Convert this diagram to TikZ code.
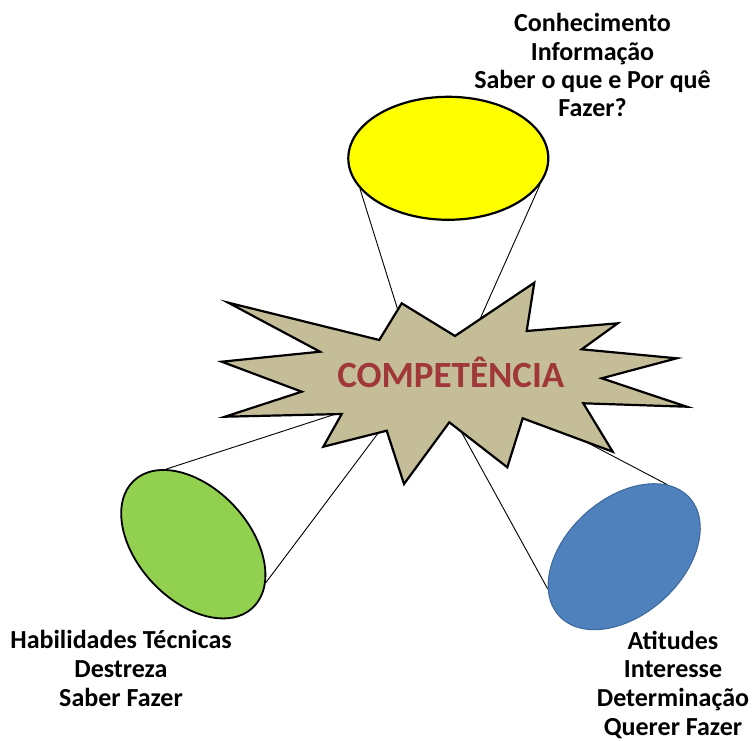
\documentclass[tikz,border=0pt]{standalone}
\usepackage{fontspec}
\setmainfont{Carlito}
\usetikzlibrary{shapes.geometric}
\pgfdeclarelayer{back}
\pgfsetlayers{back,main}
\definecolor{knowY}{HTML}{FFFF00}
\definecolor{skillG}{HTML}{92D050}
\definecolor{attB}{HTML}{4F81BD}
\definecolor{attEdge}{HTML}{3A679C}
\definecolor{burst}{HTML}{C4BD97}
\definecolor{compRed}{HTML}{A0383A}
\begin{document}
\begin{tikzpicture}[x=1pt,y=1pt,
  lbl/.style={font=\fontsize{26}{28.6}\selectfont\bfseries, align=center, inner sep=0pt, anchor=base},
  cone/.style={draw=black, line width=0.9pt},
  oval/.style={ellipse, inner sep=0pt}]
\useasboundingbox (0,0) rectangle (752,740);

% the three ovals
\node[oval, draw=black, line width=2.2pt, fill=knowY,
      minimum width=200pt, minimum height=123pt] (know) at (448.3,581.7) {};
\node[oval, draw=black, line width=1.8pt, fill=skillG,
      minimum width=174pt, minimum height=112pt, rotate=-47] (skill) at (193.3,195.8) {};
\node[oval, draw=attEdge, line width=1pt, fill=attB,
      minimum width=176pt, minimum height=116pt, rotate=42] (att) at (624.2,183.3) {};

% points where the cone lines disappear behind the burst
\coordinate (c1) at (399.4,425);
\coordinate (c2) at (476,412);
\coordinate (c3) at (345,329);
\coordinate (c4) at (383.5,314);
\coordinate (c5) at (457,316);
\coordinate (c6) at (588,297);

% central burst
\draw[line width=2.2pt, fill=burst, line join=miter]
  (228.3,437.3) -- (379.3,400) -- (401.7,436.7) -- (455,404) -- (534.3,457.3)
  -- (526.7,409) -- (617.7,416.7) -- (581.7,390.7) -- (676.7,381.7)
  -- (601.7,361.7) -- (686.7,333.3) -- (583.3,336.7) -- (612.7,288.3)
  -- (522.7,321.7) -- (507.3,272.7) -- (449.3,317.7) -- (404,256)
  -- (386.7,309.3) -- (323.3,293.3) -- (341.7,326) -- (225,323.3)
  -- (301.7,348.3) -- (221.7,378.3) -- (320,388.3) -- cycle;
\node[anchor=base, inner sep=0pt, text=compRed,
      font=\fontsize{37}{40}\selectfont\bfseries] (comp) at (450.8,352.3) {COMPETÊNCIA};

% cone lines from each oval to the burst
\begin{pgfonlayer}{back}
  \draw[cone] (know.199) -- (c1);
  \draw[cone] (know.344) -- (c2);
  \draw[cone] (skill.157) -- (c3);
  \draw[cone] (skill.19) -- (c4);
  \draw[cone] (att.161) -- (c5);
  \draw[cone] (att.17) -- (c6);
\end{pgfonlayer}

% labels, each placed at the baseline of its last line
\node[lbl, font=\fontsize{26}{28.3}\selectfont\bfseries] (knowtxt) at (592.5,623.3)
  {Conhecimento\\Informação\\Saber o que e Por quê\\Fazer?};
\node[lbl] (skilltxt) at (121,34)
  {Habilidades Técnicas\\Destreza\\Saber Fazer};
\node[lbl] (atttxt) at (673,5)
  {Atitudes\\Interesse\\Determinação\\Querer Fazer};
\end{tikzpicture}
\end{document}
